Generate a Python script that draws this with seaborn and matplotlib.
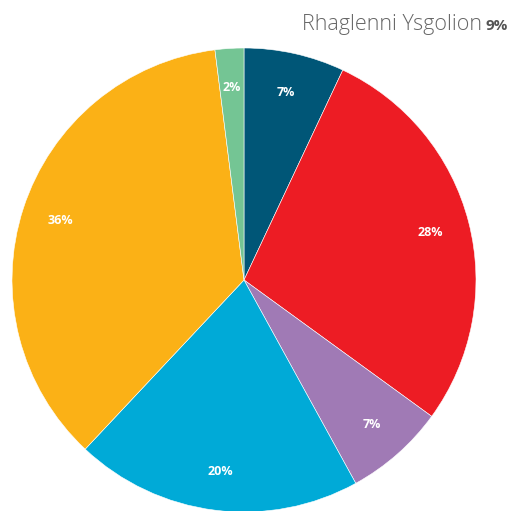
import matplotlib
matplotlib.use("Agg")
import matplotlib.pyplot as plt
import seaborn as sns

# data
categories = ["A", "B", "C", "D", "E", "F"]
values = [7, 28, 7, 20, 36, 2]
colors = ["#005677", "#ed1c24", "#a07ab5", "#00aad7", "#fbb116", "#74c594"]
title = "Rhaglenni Ysgolion"
title_value = "9%"

sns.set_theme(style="white")
plt.rcParams['font.family'] = ['Open Sans', 'DejaVu Sans']

W, H = 512, 511
fig = plt.figure(figsize=(W / 100, H / 100), dpi=100)

# pie centre (244, 280) px from top-left, radius ~232 px
cx, cy, r = 244, 280, 232
ax = fig.add_axes([(cx - r) / W, (H - cy - r) / H, 2 * r / W, 2 * r / H])

wedges, texts, autotexts = ax.pie(
    values,
    colors=sns.color_palette(colors),
    startangle=90,
    counterclock=False,
    autopct=lambda p: f"{p:.0f}%",
    pctdistance=0.83,
    wedgeprops=dict(linewidth=0.4, edgecolor="white"),
    textprops=dict(color="white", fontsize=9, fontweight="bold"),
)
ax.set_xlim(-1, 1)
ax.set_ylim(-1, 1)
ax.set_aspect("equal")
ax.axis("off")

fig.text(508 / W, 1 - 30 / H, title_value, ha="right", va="baseline",
         fontsize=11, fontweight="bold", color="#555555")
fig.text(482 / W, 1 - 30 / H, title, ha="right", va="baseline",
         fontsize=15.5, fontweight="light", color="#666666")

plt.savefig("out.png", dpi=100)
